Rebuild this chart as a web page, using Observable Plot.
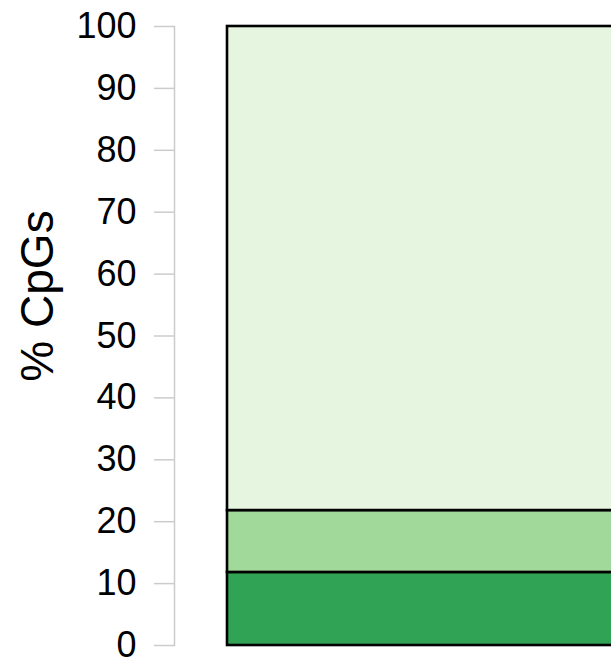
<!DOCTYPE html>
<html><head><meta charset="utf-8">
<script src="https://cdn.jsdelivr.net/npm/d3@7"></script>
<script src="https://cdn.jsdelivr.net/npm/@observablehq/plot@0.6"></script>
<style>body{margin:0;background:#fff;}</style>
</head><body><div id="chart"></div>
<script>
const samples = ["sample"];
const categories = ["bottom", "middle", "top"];
const percents = [11.8, 10.0, 78.2];
const colors = ["#31a354", "#a1d99b", "#e5f5e0"];
const yTicks = [0, 10, 20, 30, 40, 50, 60, 70, 80, 90, 100];
const yLabel = "% CpGs";

const data = categories.map((c, i) => ({sample: samples[0], category: c, value: percents[i]}));

const chart = Plot.plot({
  width: 611, height: 661,
  marginTop: 26, marginBottom: 16, marginLeft: 174, marginRight: 0,
  style: {fontFamily: "'Liberation Sans', Arial, Helvetica, sans-serif", fontSize: "36px", background: "white", color: "black"},
  x: {type: "band", domain: samples, range: [227, 1000], padding: 0, axis: null},
  y: {domain: [0, 100]},
  color: {domain: categories, range: colors},
  marks: [
    Plot.frame({anchor: "left", stroke: "#cccccc", strokeWidth: 1.5}),
    Plot.axisY({ticks: yTicks, tickSize: 20, tickPadding: 18, stroke: "#cccccc", strokeWidth: 1.5, fill: "black", strokeOpacity: 1, label: null, fontSize: 36}),
    Plot.barY(data, {x: "sample", y: "value", fill: "category", stroke: "black", strokeWidth: 2.6}),
    Plot.text([yLabel], {text: d => d, frameAnchor: "left", dx: -122, dy: -40, rotate: -90, textAnchor: "middle", lineAnchor: "bottom", fontSize: 46, fill: "black"})
  ]
});
document.getElementById("chart").append(chart);
</script>
</body></html>
